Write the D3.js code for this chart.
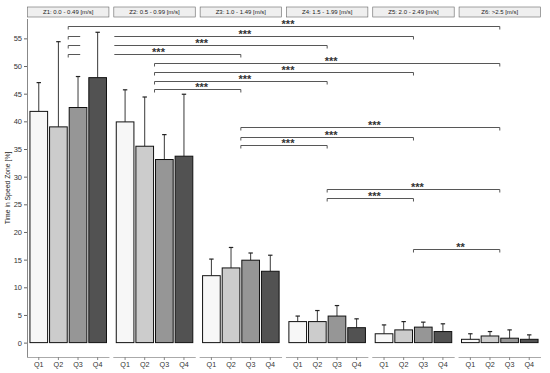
<!DOCTYPE html>
<html>
<head>
<meta charset="utf-8">
<script src="https://cdn.jsdelivr.net/npm/d3@7"></script>
<style>
  body { margin: 0; background: #fff; }
  text { font-family: "Liberation Sans", Arial, sans-serif; }
</style>
</head>
<body>
<div id="chart"></div>
<script>
// data
var zones = ["Z1", "Z2", "Z3", "Z4", "Z5", "Z6"];
var zoneLabels = ["Z1: 0.0 - 0.49 [m/s]", "Z2: 0.5 - 0.99 [m/s]", "Z3: 1.0 - 1.49 [m/s]",
                  "Z4: 1.5 - 1.99 [m/s]", "Z5: 2.0 - 2.49 [m/s]", "Z6: >2.5 [m/s]"];
var quartiles = ["Q1", "Q2", "Q3", "Q4"];
var yTicks = [0, 5, 10, 15, 20, 25, 30, 35, 40, 45, 50, 55];

// mean per zone (rows) and quartile (columns)
var means = [
  [41.8, 39.0, 42.5, 47.9],
  [39.9, 35.5, 33.1, 33.7],
  [12.1, 13.5, 14.9, 12.9],
  [3.8, 3.8, 4.8, 2.7],
  [1.6, 2.3, 2.8, 2.0],
  [0.6, 1.2, 0.8, 0.6]
];
// upper end of the error bar
var upper = [
  [47.0, 54.4, 48.1, 56.1],
  [45.7, 44.4, 37.6, 44.9],
  [15.1, 17.2, 16.2, 15.8],
  [4.8, 5.8, 6.7, 4.3],
  [3.2, 3.8, 3.7, 3.4],
  [1.6, 2.0, 2.3, 1.4]
];

// significance brackets between zones
var sigFrom  = ["Z1", "Z1", "Z1", "Z1", "Z2", "Z2", "Z2", "Z2", "Z3", "Z3", "Z3", "Z4", "Z4", "Z5"];
var sigTo    = ["Z6", "Z5", "Z4", "Z3", "Z6", "Z5", "Z4", "Z3", "Z6", "Z5", "Z4", "Z6", "Z5", "Z6"];
var sigLevel = [57.2, 55.5, 53.8, 52.1, 50.5, 49.0, 47.3, 45.8, 38.9, 37.2, 35.7, 27.8, 26.1, 17.0];
var sigText  = ["***", "***", "***", "***", "***", "***", "***", "***", "***", "***", "***", "***", "***", "**"];

var fills = ["#f7f7f7", "#cccccc", "#969696", "#525252"];

var W = 550, H = 373;
var margin = {top: 19, right: 9, bottom: 16, left: 27};
var plotW = W - margin.left - margin.right,
    plotH = H - margin.top - margin.bottom;

var svg = d3.select("#chart")
  .append("svg")
    .attr("width", W)
    .attr("height", H)
  .append("g")
    .attr("transform", "translate(" + margin.left + "," + margin.top + ")");

// panel scale and within-panel scale
var xp = d3.scaleBand()
  .domain(zones)
  .range([0, plotW])
  .paddingInner(0.045)
  .paddingOuter(0);

var xq = d3.scaleBand()
  .domain(quartiles)
  .range([0, xp.bandwidth()])
  .paddingInner(0.1)
  .paddingOuter(0.15);

var y = d3.scaleLinear()
  .domain([-2.6, 58.5])
  .range([plotH, 0]);

// Y axis
var yAxis = svg.append("g")
  .call(d3.axisLeft(y).tickValues(yTicks).tickSize(3).tickPadding(2));
yAxis.select(".domain").attr("stroke", "#888").attr("d", "M0.5," + plotH + "V0");
yAxis.selectAll(".tick line").attr("stroke", "#666");
yAxis.selectAll(".tick text").attr("fill", "#333").style("font-size", "7.5px");

svg.append("text")
  .attr("transform", "rotate(-90)")
  .attr("x", -plotH / 2)
  .attr("y", -17.5)
  .attr("text-anchor", "middle")
  .style("font-size", "6.8px")
  .attr("fill", "#222")
  .text("Time in Speed Zone [%]");

// strips
zones.forEach(function (z, i) {
  var g = svg.append("g").attr("transform", "translate(" + xp(z) + ",0)");
  g.append("rect")
    .attr("x", 0.5)
    .attr("y", -12)
    .attr("width", xp.bandwidth() - 1)
    .attr("height", 10)
    .attr("fill", "#efefef")
    .attr("stroke", "#666")
    .attr("stroke-width", 0.6);
  g.append("text")
    .attr("x", xp.bandwidth() / 2)
    .attr("y", -4.6)
    .attr("text-anchor", "middle")
    .style("font-size", "6px")
    .attr("fill", "#222")
    .text(zoneLabels[i]);

  // bottom axis per panel
  var ax = g.append("g")
    .attr("transform", "translate(0," + plotH + ")")
    .call(d3.axisBottom(xq).tickSize(3).tickPadding(2));
  ax.select(".domain").attr("stroke", "#aaa").attr("d", "M0,0.5H" + xp.bandwidth());
  ax.selectAll(".tick line").attr("stroke", "#888");
  ax.selectAll(".tick text").attr("fill", "#333").style("font-size", "7.2px");

  var rows = quartiles.map(function (q, j) {
    return {q: q, m: means[i][j], u: upper[i][j], c: fills[j]};
  });

  // error bars first, bars drawn on top
  g.selectAll("line.err")
    .data(rows)
    .enter()
    .append("line")
      .attr("x1", function (d) { return xq(d.q) + xq.bandwidth() / 2; })
      .attr("x2", function (d) { return xq(d.q) + xq.bandwidth() / 2; })
      .attr("y1", function (d) { return y(d.m); })
      .attr("y2", function (d) { return y(d.u); })
      .attr("stroke", "#222")
      .attr("stroke-width", 0.9);
  g.selectAll("line.cap")
    .data(rows)
    .enter()
    .append("line")
      .attr("x1", function (d) { return xq(d.q) + xq.bandwidth() / 2 - 2.2; })
      .attr("x2", function (d) { return xq(d.q) + xq.bandwidth() / 2 + 2.2; })
      .attr("y1", function (d) { return y(d.u); })
      .attr("y2", function (d) { return y(d.u); })
      .attr("stroke", "#222")
      .attr("stroke-width", 1.2);

  g.selectAll("rect.bar")
    .data(rows)
    .enter()
    .append("rect")
      .attr("x", function (d) { return xq(d.q); })
      .attr("y", function (d) { return y(d.m); })
      .attr("width", xq.bandwidth())
      .attr("height", function (d) { return y(0) - y(d.m); })
      .attr("fill", function (d) { return d.c; })
      .attr("stroke", "#111")
      .attr("stroke-width", 1);
});

// significance brackets
var cx = function (z) { return xp(z) + xp.bandwidth() / 2; };
var sig = svg.append("g");
sigFrom.forEach(function (f, k) {
  var x1 = cx(f), x2 = cx(sigTo[k]), yy = Math.round(y(sigLevel[k])) + 0.5;
  var path;
  if (f === "Z1" && k > 0) {
    // line is interrupted between Z1 and Z2
    var gapA = x1 + 12, gapB = xp("Z2") + 1;
    path = "M" + x1 + "," + (yy + 3) + "V" + yy + "H" + gapA +
           "M" + gapB + "," + yy + "H" + x2 + "V" + (yy + 3);
  } else {
    path = "M" + x1 + "," + (yy + 3) + "V" + yy + "H" + x2 + "V" + (yy + 3);
  }
  sig.append("path")
    .attr("d", path)
    .attr("fill", "none")
    .attr("stroke", "#444")
    .attr("stroke-width", 0.9);
  sig.append("text")
    .attr("x", (x1 + x2) / 2 + 4)
    .attr("y", yy + 1.5)
    .attr("text-anchor", "middle")
    .style("font-size", "11px")
    .style("font-weight", "bold")
    .attr("fill", "#333")
    .text(sigText[k]);
});
</script>
</body>
</html>
